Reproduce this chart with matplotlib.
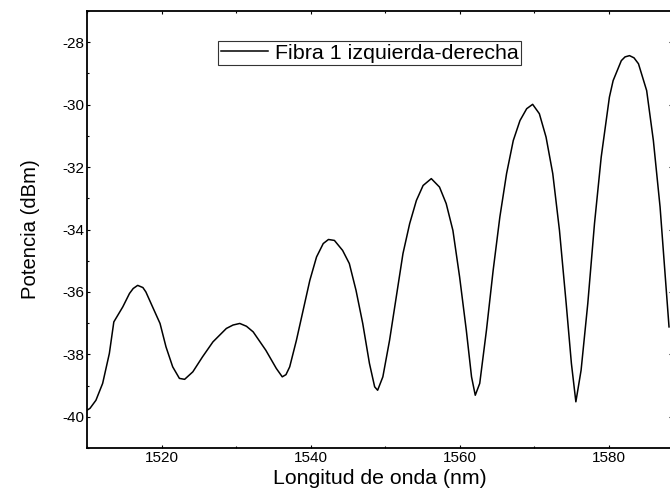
import numpy as np
from matplotlib import pyplot as plt
from matplotlib.ticker import MultipleLocator

plt.rcParams['font.family'] = ['Liberation Sans', 'DejaVu Sans']
plt.rcParams['axes.unicode_minus'] = False

# Spectrum (wavelength in nm, power in dBm)
wavelength = np.array([
    1510.0, 1510.4, 1511.2, 1512.1, 1513.0, 1513.6, 1514.8, 1515.7, 1516.2,
    1516.8, 1517.5, 1517.9, 1518.8, 1519.8, 1520.6, 1521.5, 1522.4, 1523.1,
    1524.2, 1525.5, 1526.9, 1528.7, 1529.6, 1530.5, 1531.4, 1532.3, 1534.0,
    1535.4, 1536.2, 1536.7, 1537.2, 1538.1, 1539.0, 1539.9, 1540.8, 1541.7,
    1542.4, 1543.2, 1544.3, 1545.2, 1546.1, 1547.0, 1547.9, 1548.6, 1549.0,
    1549.7, 1550.6, 1551.5, 1552.4, 1553.3, 1554.2, 1555.1, 1556.2, 1557.3,
    1558.2, 1559.1, 1560.0, 1560.9, 1561.6, 1562.1, 1562.7, 1563.6, 1564.5,
    1565.4, 1566.3, 1567.2, 1568.1, 1569.0, 1569.8, 1570.7, 1571.6, 1572.5,
    1573.4, 1574.3, 1575.0, 1575.6, 1576.3, 1577.2, 1578.1, 1579.0, 1580.1,
    1580.6, 1581.7, 1582.2, 1582.8, 1583.4, 1584.0, 1585.1, 1586.0, 1586.9,
    1587.5, 1588.1,
])
power = np.array([
    -39.79, -39.73, -39.47, -38.93, -37.97, -36.96, -36.48, -36.05, -35.89,
    -35.79, -35.86, -36.00, -36.48, -37.01, -37.76, -38.40, -38.77, -38.80,
    -38.56, -38.08, -37.60, -37.17, -37.06, -37.01, -37.10, -37.28, -37.87,
    -38.45, -38.72, -38.65, -38.40, -37.55, -36.59, -35.63, -34.88, -34.45,
    -34.32, -34.35, -34.67, -35.09, -35.95, -37.01, -38.29, -39.04, -39.15,
    -38.72, -37.55, -36.16, -34.77, -33.81, -33.07, -32.59, -32.37, -32.64,
    -33.17, -34.03, -35.52, -37.23, -38.72, -39.31, -38.93, -37.23, -35.31,
    -33.60, -32.21, -31.15, -30.51, -30.13, -29.99, -30.29, -31.04, -32.21,
    -34.03, -36.37, -38.29, -39.52, -38.51, -36.37, -33.81, -31.68, -29.76,
    -29.23, -28.59, -28.47, -28.43, -28.50, -28.69, -29.55, -31.15, -33.28,
    -35.20, -37.12,
])
series_label = 'Fibra 1 izquierda-derecha'

fig = plt.figure(figsize=(6.7, 4.97), dpi=100)
# right spine sits just past the edge of the picture, as in the original
ax = fig.add_axes([87 / 670, 49 / 497, 585 / 670, 437 / 497])

ax.plot(wavelength, power, color='black', linewidth=1.1, label=series_label)

ax.set_xlim(1510, 1588.5)
ax.set_ylim(-41, -27)
ax.xaxis.set_major_locator(MultipleLocator(20))
ax.xaxis.set_minor_locator(MultipleLocator(10))
ax.yaxis.set_major_locator(MultipleLocator(2))
ax.yaxis.set_minor_locator(MultipleLocator(1))
ax.tick_params(which='both', direction='in', top=True, right=True,
               labelsize=11, pad=2)
ax.tick_params(which='major', length=2.5, width=0.8)
ax.tick_params(which='minor', length=1.5, width=0.8)
for side in ax.spines.values():
    side.set_linewidth(1.3)

ax.set_xlabel('Longitud de onda (nm)', fontsize=15.3, labelpad=3)
ax.set_ylabel('Potencia (dBm)', fontsize=14.6, labelpad=16)

leg = ax.legend(loc='upper left', bbox_to_anchor=(218 / 670, 1 - 41 / 497),
                bbox_transform=fig.transFigure, fontsize=15.4, frameon=True,
                fancybox=False, framealpha=1, borderpad=0.12,
                borderaxespad=0, handlelength=2.2, handletextpad=0.35)
leg.get_frame().set_edgecolor('#333333')
leg.get_frame().set_linewidth(0.8)

fig.savefig('out.png', dpi=100)
